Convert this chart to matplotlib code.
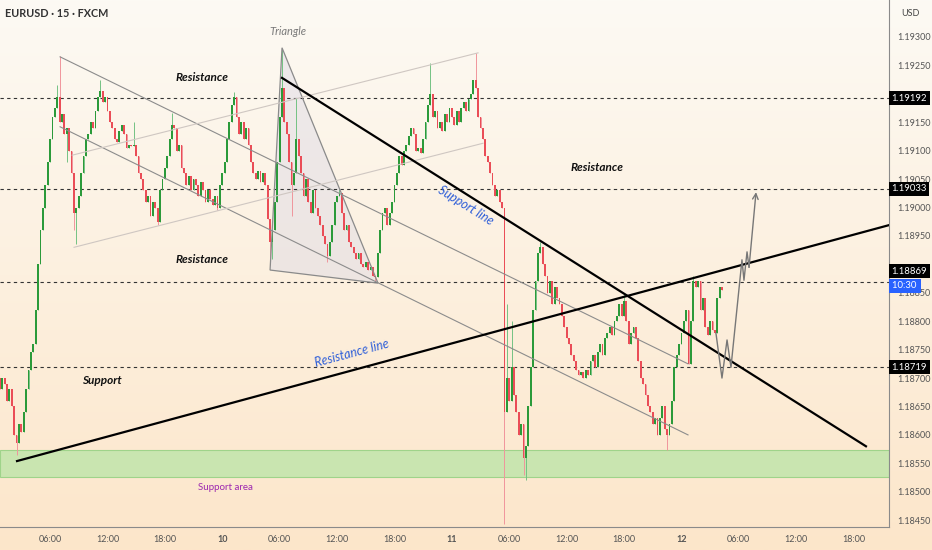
import numpy as np
import matplotlib
matplotlib.use("Agg")
import matplotlib.pyplot as plt
from matplotlib.colors import LinearSegmentedColormap
from matplotlib.patches import Polygon

# EURUSD 15 min, x axis in hours from day 9 00:00
BASE = 1.18          # prices below are in 0.00001 above BASE
first_time = 0.75
bar_len = 0.25
first_open = 700
close_pips = [
    680, 700, 690, 660, 680, 650, 600, 585, 620, 605,
    640, 680, 715, 745, 760, 820, 900, 960, 1000, 1040,
    1080, 1120, 1160, 1175, 1195, 1150, 1165, 1130, 1140, 1100,
    1060, 990, 1000, 1020, 1060, 1090, 1120, 1130, 1150, 1140,
    1170, 1195, 1205, 1185, 1195, 1170, 1150, 1140, 1120, 1115,
    1135, 1145, 1130, 1105, 1110, 1108, 1110, 1090, 1060, 1050,
    1030, 1010, 1020, 985, 1010, 1000, 975, 1030, 1050, 1070,
    1090, 1120, 1145, 1140, 1100, 1110, 1070, 1060, 1040, 1055,
    1030, 1050, 1040, 1020, 1045, 1030, 1010, 1030, 1015, 1005,
    1020, 1000, 1040, 1060, 1080, 1120, 1150, 1180, 1195, 1160,
    1130, 1150, 1120, 1140, 1110, 1080, 1060, 1050, 1065, 1045,
    1060, 1040, 980, 940, 960, 1010, 1080, 1160, 1210, 1150,
    1130, 1080, 1040, 1060, 1120, 1090, 1060, 1020, 1050, 1010,
    990, 1030, 1000, 985, 970, 950, 935, 915, 940, 970,
    1010, 1020, 1025, 990, 960, 970, 940, 930, 920, 910,
    920, 900, 895, 905, 890, 895, 880, 878, 920, 960,
    990, 1000, 970, 990, 1010, 1040, 1060, 1090, 1075, 1100,
    1110, 1125, 1140, 1130, 1100, 1105, 1095, 1120, 1150, 1180,
    1200, 1160, 1170, 1140, 1150, 1135, 1165, 1150, 1175, 1160,
    1145, 1170, 1150, 1175, 1185, 1170, 1190, 1200, 1225, 1210,
    1160, 1140, 1120, 1090, 1080, 1060, 1040, 1020, 1030, 1010,
    1000, 640, 700, 660, 720, 670, 640, 600, 620, 560,
    580, 650, 720, 820, 870, 920, 930, 900, 880, 850,
    870, 830, 860, 840, 830, 810, 790, 770, 760, 740,
    730, 715, 705, 710, 700, 715, 705, 730, 740, 720,
    745, 760, 740, 770, 780, 790, 775, 800, 810, 830,
    810, 835, 800, 760, 780, 790, 770, 730, 700, 690,
    670, 650, 640, 620, 630, 600, 630, 650, 610, 600,
    620, 660, 720, 740, 760, 780, 800, 820, 725, 800,
    870, 860, 870, 820, 840, 790, 775, 800, 785, 780,
    840, 860, 855,
]
# bar index: (high, low) for the longer wicks
wicks = {
    7: (None, 565), 24: (1215, None), 25: (1267, None), 28: (None, 1080),
    31: (None, 960), 32: (None, 935), 42: (1225, None), 56: (1150, None),
    66: (None, 970), 72: (1167, None), 91: (None, 995), 98: (1203, None),
    113: (None, 898), 114: (None, 910), 118: (1277, None), 122: (None, 985),
    124: (1193, None), 137: (None, 905), 142: (1032, None), 157: (None, 870),
    180: (1255, None), 199: (1272, None), 211: (None, 443), 212: (830, None),
    214: (800, None), 219: (None, 530), 220: (None, 520), 226: (940, None),
    261: (850, None), 279: (None, 574), 290: (880, None),
}

level_prices = [1.19192, 1.19033, 1.18869, 1.18719]
level_tags = [(1.19192, "1.19192"), (1.19033, "1.19033"),
              (1.18888, "1.18869"), (1.18719, "1.18719")]
price_ticks = np.round(np.arange(1.1845, 1.19301, 0.0005), 5)
hidden_ticks = [1.192, 1.189]   # covered by the price tags
time_ticks = [6, 12, 18, 24, 30, 36, 42, 48, 54, 60, 66, 72, 78, 84, 90]
time_labels = ["06:00", "12:00", "18:00", "10", "06:00", "12:00", "18:00", "11",
               "06:00", "12:00", "18:00", "12", "06:00", "12:00", "18:00"]

# drawings (hours, price)
desc_upper = [(7.05, 1.19265), (72.69, 1.18725)]
desc_lower = [(7.05, 1.19142), (72.69, 1.18600)]
asc_upper = [(8.31, 1.19092), (50.74, 1.19272)]
asc_lower = [(8.51, 1.18930), (51.26, 1.19113)]
triangle = [(30.25, 1.19281), (29.0, 1.18890), (40.28, 1.18867)]
support_line = [(30.25, 1.19228), (91.29, 1.18580)]
resistance_line = [(2.55, 1.18554), (93.7, 1.18969)]
path_t = [75.61, 76.24, 76.77, 77.18, 78.33, 78.54, 78.86, 79.07, 79.80]
path_p = [1.18779, 1.18700, 1.18767, 1.18719, 1.18908, 1.18872, 1.18922, 1.18895, 1.19027]
support_area = (1.18526, 1.18573)

closes = BASE + np.array(close_pips) / 1e5
opens = np.concatenate([[BASE + first_open / 1e5], closes[:-1]])
times = first_time + bar_len * np.arange(len(closes))
highs = np.maximum(opens, closes)
lows = np.minimum(opens, closes)
for i, (h, l) in wicks.items():
    if h is not None:
        highs[i] = BASE + h / 1e5
    if l is not None:
        lows[i] = BASE + l / 1e5

plt.rcParams['font.family'] = ['Lato', 'DejaVu Sans']

fig = plt.figure(figsize=(9.32, 5.5), dpi=100)
bg = fig.add_axes([0, 0, 1, 1], zorder=0)
cmap = LinearSegmentedColormap.from_list("bg", ["#fcfaf4", "#fde6ca"])
bg.imshow(np.linspace(0, 1, 256).reshape(-1, 1), aspect="auto", cmap=cmap,
          extent=[0, 1, 0, 1], origin="upper")
bg.axis("off")

ax = fig.add_axes([0, 23 / 550, 889 / 932, 527 / 550], zorder=1)
ax.set_facecolor("none")
ax.set_xlim(0.77, 93.7)
ax.set_ylim(1.18438, 1.19365)

# support area
ax.axhspan(support_area[0], support_area[1], facecolor="#c9e5b0", edgecolor="#9fd38a",
           lw=0.8, zorder=1)

# dashed levels
for p in level_prices:
    ax.axhline(p, color="#333333", lw=0.8, ls=(0, (3, 3)), zorder=2)

# triangle
ax.add_patch(Polygon(triangle, closed=True, facecolor="#dcd9e6", alpha=0.45,
                     edgecolor="none", zorder=1.5))
ax.add_patch(Polygon(triangle, closed=True, fill=False, edgecolor="#8a8a8a",
                     lw=0.9, zorder=4))

# channels
for seg, col in [(desc_upper, "#8c8c8c"), (desc_lower, "#8c8c8c"),
                 (asc_upper, "#cfc7c2"), (asc_lower, "#cfc7c2")]:
    ax.plot([seg[0][0], seg[1][0]], [seg[0][1], seg[1][1]], color=col, lw=0.8, zorder=4)

# candles
up = closes >= opens
green, red = "#2b9a3a", "#ea4d57"
colors = np.where(up, green, red)
wick_colors = np.where(up, "#74c283", "#f0959c")
ax.vlines(times, lows, highs, colors=wick_colors, lw=0.7, zorder=3)
body_h = np.maximum(np.abs(closes - opens), 0.000012)
ax.bar(times, body_h, bottom=np.minimum(opens, closes), width=0.19,
       color=colors, linewidth=0, zorder=3.5)

# black trend lines
ax.plot(*zip(*support_line), color="black", lw=1.6, zorder=5)
ax.plot(*zip(*resistance_line), color="black", lw=1.6, zorder=5)

# projection path
ax.plot(path_t[:-1], path_p[:-1], color="#777777", lw=1.0, zorder=5)
ax.annotate("", xy=(path_t[-1], path_p[-1]), xytext=(path_t[-2], path_p[-2]),
            arrowprops=dict(arrowstyle="->", color="#777777", lw=1.0,
                            shrinkA=0, shrinkB=0, mutation_scale=10), zorder=5)

# labels
kw = dict(fontsize=8.5, fontweight="bold", fontstyle="italic", color="#111111",
          ha="center", va="center", zorder=6)
ax.text(21.89, 1.19228, "Resistance", **kw)
ax.text(21.89, 1.18908, "Resistance", **kw)
ax.text(63.18, 1.19071, "Resistance", **kw)
ax.text(11.44, 1.18696, "Support", **kw)
ax.text(30.88, 1.19309, "Triangle", fontsize=8, fontstyle="italic", color="#7a7a7a",
        ha="center", va="center", zorder=6)
ax.text(49.5, 1.19004, "Support line", fontsize=9, fontstyle="italic", color="#2f5fd8",
        rotation=-32, rotation_mode="anchor", ha="center", va="center", zorder=6)
ax.text(37.57, 1.18744, "Resistance line", fontsize=9, fontstyle="italic", color="#2f5fd8",
        rotation=15, rotation_mode="anchor", ha="center", va="center", zorder=6)
ax.text(24.29, 1.18508, "Support area", fontsize=7, color="#9c27b0",
        ha="center", va="center", zorder=6)
ax.text(0.006, 0.975, "EURUSD · 15 · FXCM", transform=ax.transAxes, fontsize=7.8,
        fontweight="bold", color="#333333", ha="left", va="center", zorder=6)

# axes styling
ax.yaxis.tick_right()
ax.set_yticks(price_ticks)
ax.set_yticklabels(["" if any(abs(p - h) < 1e-7 for h in hidden_ticks) else f"{p:.5f}"
                    for p in price_ticks])
ax.set_xticks(time_ticks)
ax.set_xticklabels(time_labels)
for lab, txt in zip(ax.get_xticklabels(), time_labels):
    if len(txt) == 2:
        lab.set_fontweight("bold")
ax.tick_params(axis="both", length=0, labelsize=6.5, labelcolor="#555555")
ax.tick_params(axis="y", pad=6)
ax.tick_params(axis="x", pad=6)
for s in ["top", "left"]:
    ax.spines[s].set_visible(False)
ax.spines["right"].set_color("#8a8a8a")
ax.spines["bottom"].set_color("#8a8a8a")
ax.spines["right"].set_linewidth(0.8)
ax.spines["bottom"].set_linewidth(0.8)

ytr = ax.get_yaxis_transform()
for p, txt in level_tags:
    ax.text(1.003, p, txt, transform=ytr, fontsize=6.8, color="white", ha="left",
            va="center", zorder=10, clip_on=False,
            bbox=dict(boxstyle="square,pad=0.25", facecolor="black", edgecolor="none"))
ax.text(1.003, 1.18862, "10:30 ", transform=ytr, fontsize=6.8, color="white", ha="left",
        va="center", zorder=10, clip_on=False,
        bbox=dict(boxstyle="square,pad=0.25", facecolor="#2962ff", edgecolor="none"))
fig.text(910 / 932, 1 - 14 / 550, "USD", fontsize=6.5, color="#444444",
         ha="center", va="center")

fig.savefig("out.png", dpi=100)
